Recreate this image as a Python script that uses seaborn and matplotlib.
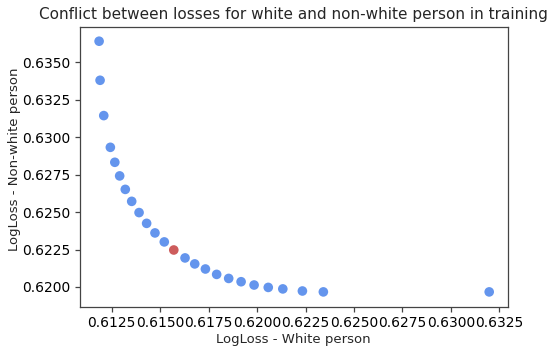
import matplotlib
matplotlib.use("Agg")
import matplotlib.pyplot as plt
import seaborn as sns
import pandas as pd

white_loss = [0.61186, 0.61191, 0.61210, 0.61244, 0.61267, 0.61292, 0.61321, 0.61354,
              0.61392, 0.61431, 0.61474, 0.61522, 0.61571, 0.61629, 0.61679, 0.61734,
              0.61792, 0.61854, 0.61918, 0.61985, 0.62058, 0.62133, 0.62234, 0.62342,
              0.63197]
nonwhite_loss = [0.63642, 0.63381, 0.63145, 0.62933, 0.62833, 0.62742, 0.62652, 0.62572,
                 0.62497, 0.62425, 0.62361, 0.62301, 0.62247, 0.62194, 0.62154, 0.62120,
                 0.62084, 0.62057, 0.62035, 0.62013, 0.61997, 0.61987, 0.61973, 0.61967,
                 0.61967]
selected = [False] * 12 + [True] + [False] * 12
x_ticks = [0.6125, 0.6150, 0.6175, 0.6200, 0.6225, 0.6250, 0.6275, 0.6300, 0.6325]
y_ticks = [0.6200, 0.6225, 0.6250, 0.6275, 0.6300, 0.6325, 0.6350]

df = pd.DataFrame({"white": white_loss, "nonwhite": nonwhite_loss,
                   "sel": ["yes" if s else "no" for s in selected]})

sns.set_style("ticks")
plt.rcParams['font.family'] = ['DejaVu Sans']

fig = plt.figure(figsize=(5.51, 3.47), dpi=100)
ax = fig.add_axes([0.1443, 0.1161, 0.922 - 0.1443, 0.9222 - 0.1161])

sns.scatterplot(data=df, x="white", y="nonwhite", hue="sel",
                palette={"no": "#6495ED", "yes": "#CD5C5C"},
                s=48, edgecolor="none", legend=False, ax=ax)

ax.set_xticks(x_ticks)
ax.set_yticks(y_ticks)
ax.set_xticklabels([f"{v:.4f}" for v in x_ticks], fontsize=10)
ax.set_yticklabels([f"{v:.4f}" for v in y_ticks], fontsize=10)
ax.set_xlim(0.61085, 0.63294)
ax.set_ylim(0.61868, 0.63737)
ax.set_xlabel("LogLoss - White person", fontsize=9.5, labelpad=2)
ax.set_ylabel("LogLoss - Non-white person", fontsize=9.5)
ax.yaxis.set_label_coords(-0.137, 0.528)
ax.set_title("Conflict between losses for white and non-white person in training", fontsize=11)
for sp in ax.spines.values():
    sp.set_visible(True)
    sp.set_color("#444444")
    sp.set_linewidth(0.9)
ax.tick_params(colors="black", color="#444444", length=3.5, width=0.9, pad=3)

fig.savefig("out.png", dpi=100)
